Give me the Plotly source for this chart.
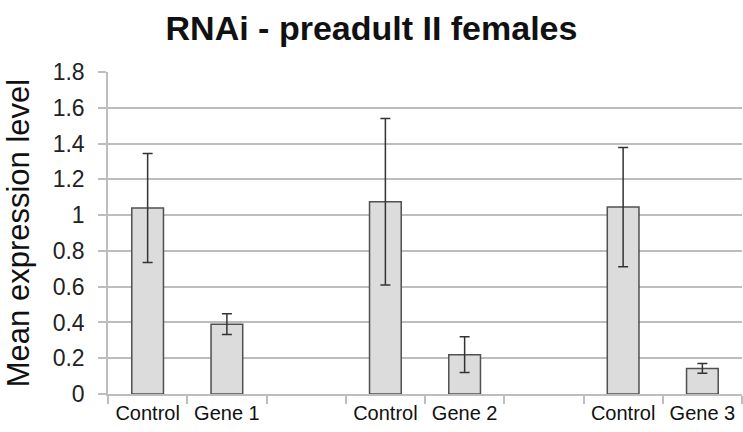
import plotly.graph_objects as go

categories = ["Control", "Gene 1", "", "Control", "Gene 2", "", "Control", "Gene 3"]
means = [1.04, 0.39, None, 1.075, 0.22, None, 1.045, 0.143]
errors = [0.305, 0.058, None, 0.465, 0.10, None, 0.333, 0.027]
y_ticks = [0, 0.2, 0.4, 0.6, 0.8, 1.0, 1.2, 1.4, 1.6, 1.8]
y_tick_text = ["0", "0.2", "0.4", "0.6", "0.8", "1", "1.2", "1.4", "1.6", "1.8"]

xs = list(range(len(categories)))
FONT = "Arial, Liberation Sans, sans-serif"
GRID = "#bdbdbd"

fig = go.Figure(go.Bar(
    x=xs, y=means, width=0.4,
    marker=dict(color="#dcdcdc", line=dict(color="#505050", width=1.5)),
    error_y=dict(type="data", array=errors, visible=True,
                 color="#333333", thickness=1.5, width=5),
))

fig.update_layout(
    width=743, height=432,
    margin=dict(l=108, r=1, t=72, b=38, autoexpand=False),
    paper_bgcolor="white", plot_bgcolor="white",
    title=dict(text="<b>RNAi - preadult II females</b>", x=0.5, xanchor="center",
               y=0.936, yanchor="middle",
               font=dict(family=FONT, size=34, color="#111111")),
    showlegend=False,
    font=dict(family=FONT, color="#222222"),
)
fig.update_xaxes(
    range=[-0.5, len(categories) - 0.5], automargin=False,
    tickvals=xs, ticktext=categories, ticks="",
    tickfont=dict(size=20, color="#111111"),
    showgrid=False, zeroline=False,
    showline=True, linecolor=GRID, linewidth=1.5,
    minor=dict(tickvals=[i - 0.5 for i in range(len(categories) + 1)],
               ticks="outside", ticklen=8, tickcolor=GRID, tickwidth=1.5, showgrid=False),
)
fig.update_yaxes(
    range=[0, 1.8], tickvals=y_ticks, ticktext=y_tick_text, automargin=False,
    tickfont=dict(size=23, color="#222222"),
    ticks="outside", ticklen=8, tickcolor=GRID, tickwidth=1.5,
    showgrid=True, gridcolor=GRID, gridwidth=1.5,
    zeroline=False, showline=True, linecolor=GRID, linewidth=1.5,
    ticklabelstandoff=9,
    title=dict(text="Mean expression level", font=dict(size=31, color="#111111"), standoff=14),
)

fig.write_html("out.html", config={"displayModeBar": False},
               post_script="document.body.style.margin='0';")
